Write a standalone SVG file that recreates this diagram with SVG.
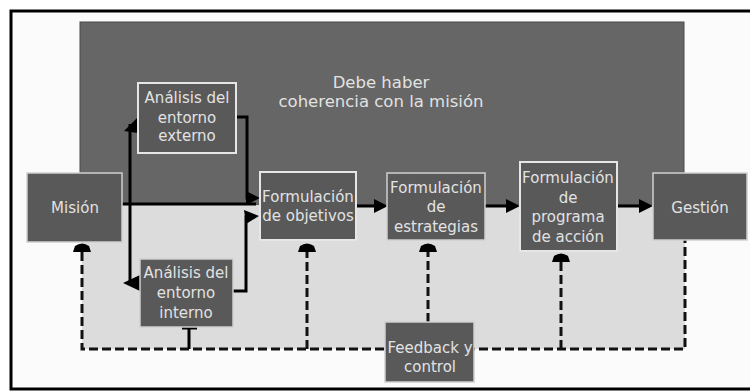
<svg xmlns="http://www.w3.org/2000/svg" width="750" height="392" viewBox="0 0 750 392">
<style>
.box{fill:#595959;stroke:#cfcfcf;stroke-width:1.5}
.boxw{fill:#595959;stroke:#e6e6e6;stroke-width:2}
.t{font-family:"DejaVu Sans","Liberation Sans",sans-serif;font-size:15px;fill:#e2e2e2;text-anchor:middle}
.big{font-family:"DejaVu Sans","Liberation Sans",sans-serif;font-size:16.5px;fill:#e2e2e2;text-anchor:middle}
.solid{fill:none;stroke:#000;stroke-width:3}
.dash{fill:none;stroke:#111;stroke-width:3;stroke-dasharray:9 4}
.ah{fill:#000}
</style>
<defs>
<path id="dome" d="M-9,9 L-7,3 Q0,-2 7,3 L9,9 Z" fill="#000"/>
</defs>
<rect x="11" y="11" width="760" height="378" fill="#fbfbfb" stroke="#000" stroke-width="3"/>
<rect x="80" y="22" width="604" height="183" fill="#666" stroke="#4a4a4a" stroke-width="1"/>
<rect x="82" y="205" width="603" height="144" fill="#dcdcdc"/>
<text class="big" x="381" y="88">Debe haber</text>
<text class="big" x="381" y="107">coherencia con la misión</text>

<g id="connectors">
<path class="solid" d="M122,204 H256"/>
<path class="solid" d="M130,204 V124"/>
<polygon class="ah" points="124,131 137,118 138,133"/>
<path class="solid" d="M130,204 V283 H140"/>
<polygon class="ah" points="123,283 140,275 140,291"/>
<path class="solid" d="M236,117 H247 V198 H256"/>
<polygon class="ah" points="260,198 246,191 246,205"/>
<path class="solid" d="M233,291 H246 V217 H255"/>
<polygon class="ah" points="259,216 244,210 246,224"/>
<path class="solid" d="M356,206 H376"/>
<polygon class="ah" points="388,206 374,199 374,213"/>
<path class="solid" d="M485,206 H508"/>
<polygon class="ah" points="520,206 506,199 506,213"/>
<path class="solid" d="M617,206 H641"/>
<polygon class="ah" points="653,206 639,199 639,213"/>
<path class="dash" d="M82,252 V349 H685 V240"/>
<path class="dash" d="M307,349 V252"/>
<path class="dash" d="M428,322 V252"/>
<path class="dash" d="M561,349 V262"/>
<use href="#dome" x="82" y="243"/>
<use href="#dome" x="307" y="243"/>
<use href="#dome" x="428" y="243"/>
<use href="#dome" x="561" y="253"/>
<path d="M189,349 V328 M182,328 H197" fill="none" stroke="#000" stroke-width="3"/>
</g>

<g id="mision">
<rect class="box" x="27" y="173" width="95" height="69"/>
<text class="t" x="75" y="213">Misión</text>
</g>
<g id="analisis-externo">
<rect class="boxw" x="138" y="83" width="98" height="70"/>
<text class="t" x="187" y="103">Análisis del</text>
<text class="t" x="187" y="123">entorno</text>
<text class="t" x="187" y="141">externo</text>
</g>
<g id="analisis-interno">
<rect class="box" x="140" y="259" width="93" height="68"/>
<text class="t" x="186" y="278">Análisis del</text>
<text class="t" x="186" y="298">entorno</text>
<text class="t" x="186" y="318">interno</text>
</g>
<g id="objetivos">
<rect class="boxw" x="260" y="172" width="96" height="68"/>
<text class="t" x="308" y="202">Formulación</text>
<text class="t" x="308" y="221">de objetivos</text>
</g>
<g id="estrategias">
<rect class="box" x="387" y="173" width="98" height="67"/>
<text class="t" x="436" y="193">Formulación</text>
<text class="t" x="436" y="212">de</text>
<text class="t" x="436" y="232">estrategias</text>
</g>
<g id="programa">
<rect class="boxw" x="520" y="162" width="97" height="89"/>
<text class="t" x="568" y="183">Formulación</text>
<text class="t" x="568" y="203">de</text>
<text class="t" x="568" y="222">programa</text>
<text class="t" x="568" y="242">de acción</text>
</g>
<g id="gestion">
<rect class="box" x="653" y="173" width="94" height="67"/>
<text class="t" x="700" y="213">Gestión</text>
</g>
<g id="feedback">
<rect class="box" x="385" y="322" width="89" height="60"/>
<text class="t" x="430" y="353" font-size="14">Feedback  y</text>
<text class="t" x="430" y="372">control</text>
</g>
</svg>
